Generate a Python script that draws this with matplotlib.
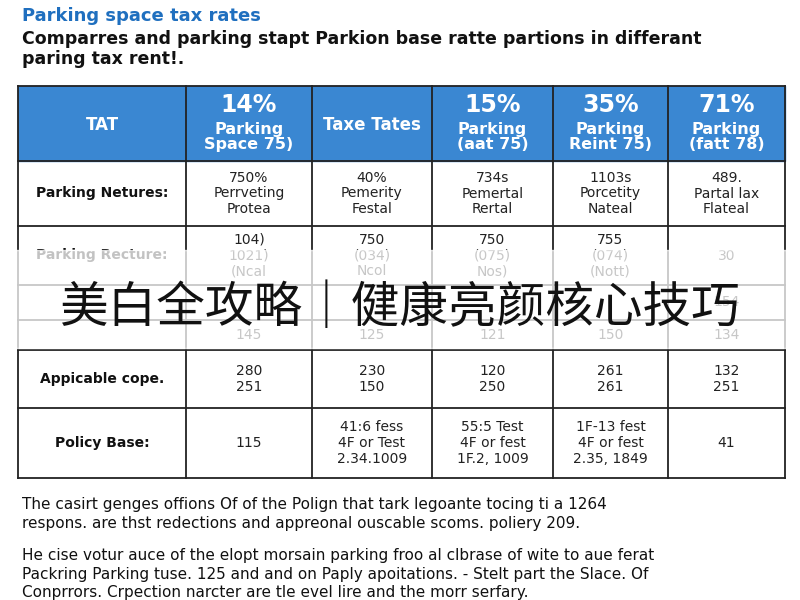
import matplotlib
matplotlib.use("Agg")
import matplotlib.pyplot as plt
from matplotlib.patches import Rectangle

plt.rcParams['font.family'] = ['DejaVu Sans', 'Noto Sans CJK SC']

title = "Parking space tax rates"
subtitle = "Comparres and parking stapt Parkion base ratte partions in differant\nparing tax rent!."
header = ["TAT", "14%\nParking\nSpace 75)", "Taxe Tates", "15%\nParking\n(aat 75)",
          "35%\nParking\nReint 75)", "71%\nParking\n(fatt 78)"]
row_labels = ["Parking Netures:", "Parking Recture:", "", "", "Appicable cope.", "Policy Base:"]
col1 = ["750%\nPerrveting\nProtea", "104)\n1021)\n(Ncal", "", "145", "280\n251", "115"]
col2 = ["40%\nPemerity\nFestal", "750\n(034)\nNcol", "", "125", "230\n150", "41:6 fess\n4F or Test\n2.34.1009"]
col3 = ["734s\nPemertal\nRertal", "750\n(075)\nNos)", "", "121", "120\n250", "55:5 Test\n4F or fest\n1F.2, 1009"]
col4 = ["1103s\nPorcetity\nNateal", "755\n(074)\n(Nott)", "", "150", "261\n261", "1F-13 fest\n4F or fest\n2.35, 1849"]
col5 = ["489.\nPartal lax\nFlateal", "30", "154", "134", "132\n251", "41"]
footer = ["The casirt genges offions Of of the Polign that tark legoante tocing ti a 1264\nrespons. are thst redections and appreonal ouscable scoms. poliery 209.",
          "He cise votur auce of the elopt morsain parking froo al clbrase of wite to aue ferat\nPackring Parking tuse. 125 and and on Paply apoitations. - Stelt part the Slace. Of\nConprrors. Crpection narcter are tle evel lire and the morr serfary."]
watermark = "美白全攻略｜健康亮颜核心技巧"

cols = [row_labels, col1, col2, col3, col4, col5]
xs = [18, 186, 312, 432, 553, 668, 785]
ys = [86, 161, 226, 285, 320, 350, 408, 478]

fig = plt.figure(figsize=(8, 6), dpi=100)
ax = fig.add_axes([0, 0, 1, 1])
ax.set_xlim(0, 800); ax.set_ylim(600, 0); ax.axis("off")

ax.text(22, 16, title, color="#1f6fbf", fontsize=13, fontweight="bold", va="center")
ax.text(22, 49, subtitle, color="#111", fontsize=12.5, fontweight="bold", va="center", linespacing=1.2)

ax.add_patch(Rectangle((xs[0], ys[0]), xs[-1]-xs[0], ys[1]-ys[0], color="#3a87d2"))
for j, h in enumerate(header):
    cx = (xs[j]+xs[j+1])/2
    lines = h.split("\n")
    if len(lines) == 3:
        ax.text(cx, 105, lines[0], color="white", fontsize=17, fontweight="bold", ha="center", va="center")
        ax.text(cx, 137, lines[1]+"\n"+lines[2], color="white", fontsize=11.5, fontweight="bold", ha="center", va="center", linespacing=1.0)
    else:
        ax.text(cx, 125, h, color="white", fontsize=12, fontweight="bold", ha="center", va="center")

for i in range(len(row_labels)):
    cy = (ys[i+1]+ys[i+2])/2
    for j, col in enumerate(cols):
        cx = (xs[j]+xs[j+1])/2
        if not col[i]:
            continue
        if j == 0:
            ax.text(cx, cy, col[i], fontsize=10, fontweight="bold", ha="center", va="center", color="#111")
        else:
            ax.text(cx, cy, col[i], fontsize=10, ha="center", va="center", color="#222", linespacing=1.15)

for y in ys:
    ax.plot([xs[0], xs[-1]], [y, y], color="#222", lw=1.3)
for x in xs:
    ax.plot([x, x], [ys[0], ys[-1]], color="#222", lw=1.3)

ax.add_patch(Rectangle((0, 250), 800, 98, color="white", alpha=0.75, zorder=5))
ax.text(400, 308, watermark, fontsize=35, ha="center", va="center", color="#111", zorder=6,
        family=['Noto Sans CJK SC', 'DejaVu Sans'])

ax.text(22, 514, footer[0], fontsize=11, va="center", color="#111", linespacing=1.3)
ax.text(22, 574, footer[1], fontsize=11, va="center", color="#111", linespacing=1.3)

fig.savefig("out.png", dpi=100)
